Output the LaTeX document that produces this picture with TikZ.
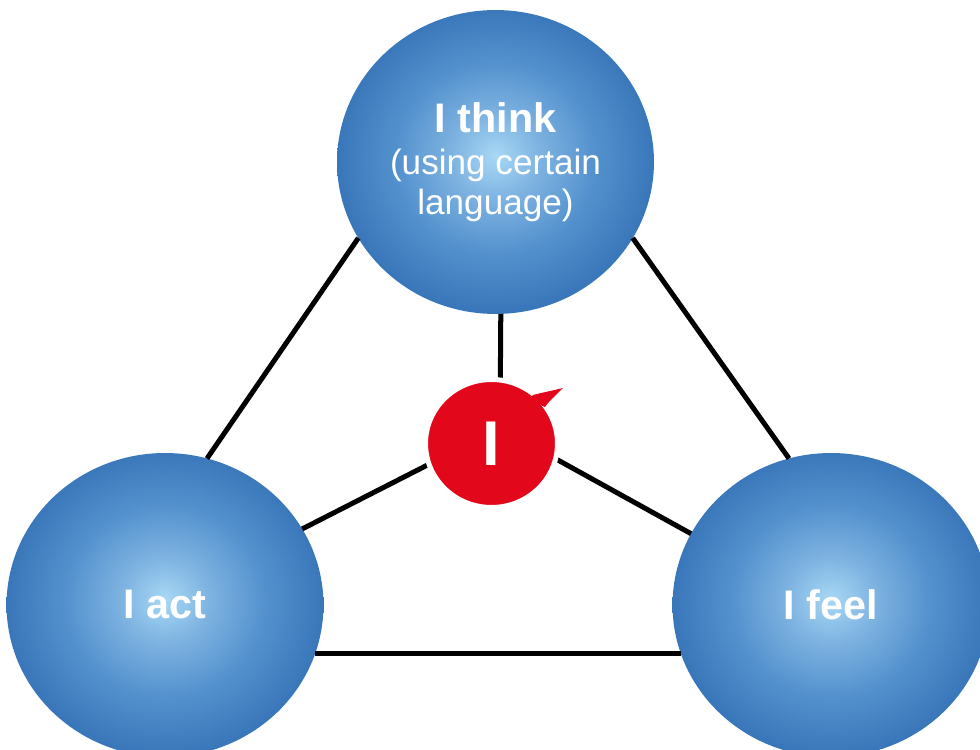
\documentclass[tikz,border=0pt]{standalone}
\usepackage{fontspec}
\setmainfont{Liberation Sans}
\usepackage{tikz}
\usetikzlibrary{shapes.geometric}
\definecolor{ballin}{HTML}{A8D8F5}
\definecolor{balllight}{HTML}{7EB3E1}
\definecolor{ballmid}{HTML}{5290CD}
\definecolor{ballout}{HTML}{3A77BA}
\definecolor{mered}{HTML}{E2071A}
\pgfdeclareradialshading{ballshade}{\pgfpoint{0bp}{1bp}}{color(0bp)=(ballin); color(7bp)=(balllight); color(16bp)=(ballmid); color(25bp)=(ballout); color(50bp)=(ballout)}

\begin{document}
\begin{tikzpicture}[x=0.02cm, y=0.02cm,
    ball/.style={ellipse, shade, shading=ballshade, minimum width=6.34cm, minimum height=6.08cm, inner sep=0pt, outer sep=0pt, text=white, align=center},
    link/.style={line width=2.85pt, black}]
    \clip (0,0) rectangle (980,750);
    \node[ball, font=\fontsize{20}{23}\selectfont] (think) at (495.5,588) {{\bfseries\fontsize{23.5}{23}\selectfont I think}\\[1pt](using certain\\language)};
    \node[ball, font=\bfseries\fontsize{23.5}{28}\selectfont] (act) at (165,145) {I act};
    \node[ball, font=\bfseries\fontsize{23.5}{28}\selectfont] (feel) at (831,145) {I feel};

    \draw[link] (think.209) -- (act.74);
    \draw[link] (think.331) -- (feel.106);
    \draw[link] (act.342) -- (feel.198);

    \coordinate (hub) at (500,322);
    \draw[link] (hub) -- (think.272);
    \draw[link] (hub) -- (act.29);
    \draw[link] (hub) -- (feel.153);

    \node[ellipse, fill=mered, draw=white, line width=0.1cm, minimum width=2.64cm, minimum height=2.56cm, inner sep=0pt, text=white, font=\bfseries\fontsize{36}{36}\selectfont] (me) at (491.5,306.5) {I};
    \fill[mered] (528,350) -- (533,355) .. controls (545,358) and (555,360) .. (563,362) .. controls (556,355) and (549,349) .. (545,343) -- cycle;
\end{tikzpicture}
\end{document}
